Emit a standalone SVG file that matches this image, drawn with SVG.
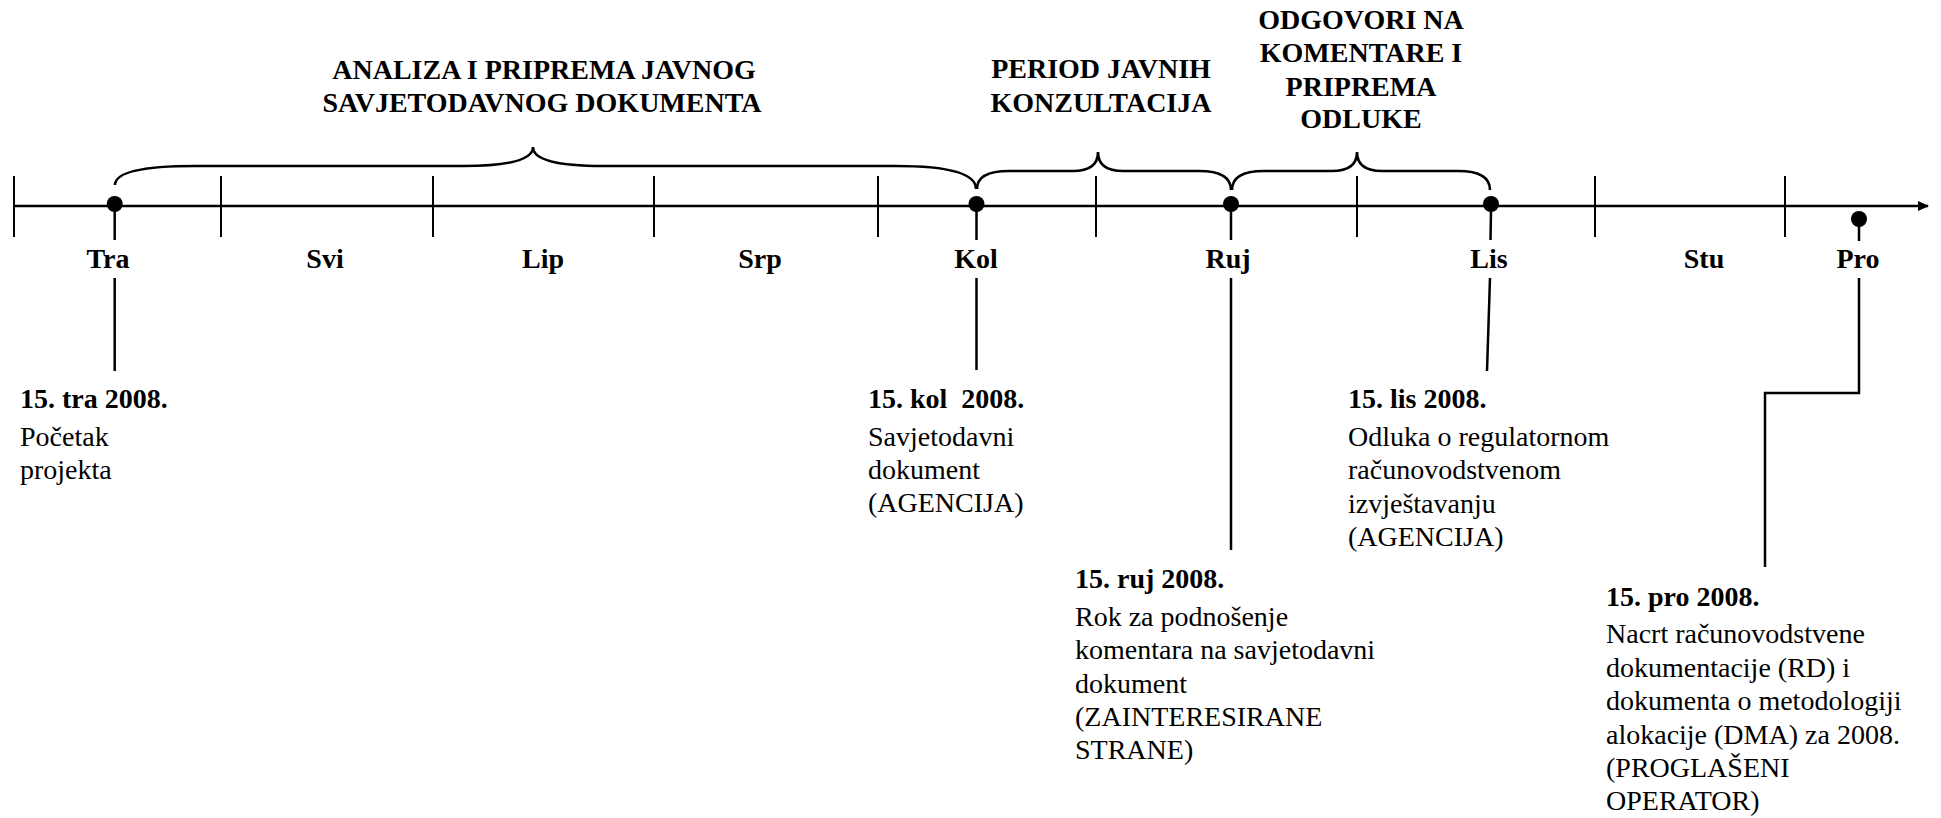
<svg xmlns="http://www.w3.org/2000/svg" width="1941" height="818" viewBox="0 0 1941 818">
<defs>
<style>
.ln{stroke:#000;stroke-width:2.5;fill:none}
.tk{stroke:#000;stroke-width:2;fill:none}
.br{stroke:#000;stroke-width:2.6;fill:none}
.dot{fill:#000}
.b{font-family:"Liberation Serif","Times New Roman",serif;font-weight:bold;font-size:28px;fill:#000}
.t{font-family:"Liberation Serif","Times New Roman",serif;font-size:28px;fill:#000}
.c{text-anchor:middle}
</style>
<marker id="arr" markerWidth="12" markerHeight="12" refX="10" refY="5" orient="auto" markerUnits="userSpaceOnUse">
<path d="M0,0 L11,5 L0,10 Z" fill="#000"/>
</marker>
</defs>
<rect width="1941" height="818" fill="#fff"/>

<g id="axis">
<line class="ln" x1="14" y1="206" x2="1928" y2="206" marker-end="url(#arr)"/>
<line class="tk" x1="14" y1="176" x2="14" y2="237"/>
<line class="tk" x1="221" y1="176" x2="221" y2="237"/>
<line class="tk" x1="433" y1="176" x2="433" y2="237"/>
<line class="tk" x1="654" y1="176" x2="654" y2="237"/>
<line class="tk" x1="878" y1="176" x2="878" y2="237"/>
<line class="tk" x1="1096" y1="176" x2="1096" y2="237"/>
<line class="tk" x1="1357" y1="176" x2="1357" y2="237"/>
<line class="tk" x1="1595" y1="176" x2="1595" y2="237"/>
<line class="tk" x1="1785" y1="176" x2="1785" y2="237"/>
</g>

<g id="months">
<text class="b c" x="108" y="268">Tra</text>
<text class="b c" x="325" y="268">Svi</text>
<text class="b c" x="543" y="268">Lip</text>
<text class="b c" x="760" y="268">Srp</text>
<text class="b c" x="976" y="268">Kol</text>
<text class="b c" x="1228" y="268">Ruj</text>
<text class="b c" x="1489" y="268">Lis</text>
<text class="b c" x="1704" y="268">Stu</text>
<text class="b c" x="1858" y="268">Pro</text>
</g>

<g id="phase1">
<path class="br" d="M115,185 Q115,166 195,166 L463,166 Q533,166 533,147 Q533,166 603,166 L896,166 Q976,166 976,189"/>
<text class="b c" x="544" y="79">ANALIZA I PRIPREMA JAVNOG</text>
<text class="b c" x="542" y="112">SAVJETODAVNOG DOKUMENTA</text>
</g>

<g id="phase2">
<path class="br" d="M977,189 Q977,171 1009,171 L1073,171 Q1098,171 1098,152 Q1098,171 1123,171 L1199,171 Q1231,171 1231,190"/>
<text class="b c" x="1101" y="78">PERIOD JAVNIH</text>
<text class="b c" x="1101" y="112">KONZULTACIJA</text>
</g>

<g id="phase3">
<path class="br" d="M1232,190 Q1232,171 1264,171 L1332,171 Q1357,171 1357,152 Q1357,171 1382,171 L1458,171 Q1490,171 1490,190"/>
<text class="b c" x="1361" y="29">ODGOVORI NA</text>
<text class="b c" x="1361" y="62">KOMENTARE I</text>
<text class="b c" x="1361" y="96">PRIPREMA</text>
<text class="b c" x="1361" y="128">ODLUKE</text>
</g>

<g id="connectors">
<line class="ln" x1="114.7" y1="210" x2="114.7" y2="240"/>
<line class="ln" x1="114.7" y1="278" x2="114.7" y2="371"/>
<line class="ln" x1="976.5" y1="210" x2="976.5" y2="240"/>
<line class="ln" x1="976.5" y1="278" x2="976.5" y2="370"/>
<line class="ln" x1="1231" y1="210" x2="1231" y2="240"/>
<line class="ln" x1="1231" y1="278" x2="1231" y2="550"/>
<line class="ln" x1="1491" y1="210" x2="1490.5" y2="240"/>
<line class="ln" x1="1490" y1="278" x2="1487" y2="371"/>
<line class="ln" x1="1859" y1="222" x2="1859" y2="241"/>
<polyline class="ln" points="1859,278 1859,393 1765,393 1765,567"/>
</g>

<g id="event-tra">
<circle class="dot" cx="114.7" cy="204" r="8"/>
<text class="b" x="20" y="408">15. tra 2008.</text>
<text class="t" x="20" y="446">Početak</text>
<text class="t" x="20" y="479">projekta</text>
</g>

<g id="event-kol">
<circle class="dot" cx="976.5" cy="204" r="8"/>
<text class="b" x="868" y="408" style="white-space:pre">15. kol  2008.</text>
<text class="t" x="868" y="446">Savjetodavni</text>
<text class="t" x="868" y="479">dokument</text>
<text class="t" x="868" y="512">(AGENCIJA)</text>
</g>

<g id="event-ruj">
<circle class="dot" cx="1231" cy="204" r="8"/>
<text class="b" x="1075" y="588">15. ruj 2008.</text>
<text class="t" x="1075" y="626">Rok za podnošenje</text>
<text class="t" x="1075" y="659">komentara na savjetodavni</text>
<text class="t" x="1075" y="693">dokument</text>
<text class="t" x="1075" y="726">(ZAINTERESIRANE</text>
<text class="t" x="1075" y="759">STRANE)</text>
</g>

<g id="event-lis">
<circle class="dot" cx="1491" cy="204" r="8"/>
<text class="b" x="1348" y="408">15. lis 2008.</text>
<text class="t" x="1348" y="446">Odluka o regulatornom</text>
<text class="t" x="1348" y="479">računovodstvenom</text>
<text class="t" x="1348" y="513">izvještavanju</text>
<text class="t" x="1348" y="546">(AGENCIJA)</text>
</g>

<g id="event-pro">
<circle class="dot" cx="1859" cy="219" r="8"/>
<text class="b" x="1606" y="606">15. pro 2008.</text>
<text class="t" x="1606" y="643">Nacrt računovodstvene</text>
<text class="t" x="1606" y="677">dokumentacije (RD) i</text>
<text class="t" x="1606" y="710">dokumenta o metodologiji</text>
<text class="t" x="1606" y="744">alokacije (DMA) za 2008.</text>
<text class="t" x="1606" y="777">(PROGLAŠENI</text>
<text class="t" x="1606" y="810">OPERATOR)</text>
</g>
</svg>
